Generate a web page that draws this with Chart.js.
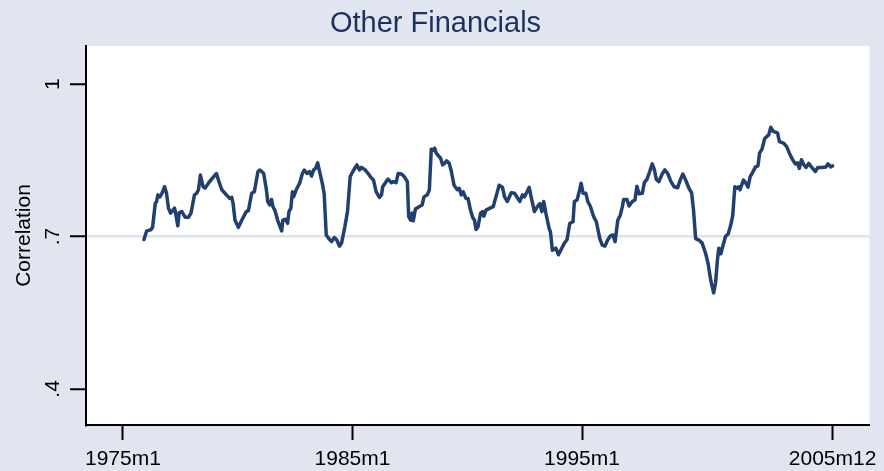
<!DOCTYPE html>
<html>
<head>
<meta charset="utf-8">
<script src="https://cdn.jsdelivr.net/npm/chart.js@4/dist/chart.umd.min.js"></script>
<style>
    html, body { margin: 0; padding: 0; background: #e1e5f0; }
    #wrap { width: 884px; height: 471px; }
</style>
</head>
<body>
<div id="wrap"><canvas id="corrChart" width="884" height="471"></canvas></div>
<script>
// months counted from 1975m1 (= 0)
const months = [
    11.0, 12.4, 14.5, 15.5, 16.9, 17.6, 18.3, 19.3, 20.4, 21.8, 22.8, 23.8, 24.9, 25.9, 27.0, 27.7, 28.7, 29.4, 30.8, 32.5,
    34.3, 35.6, 37.4, 38.5, 39.5, 40.5, 41.9, 42.9, 44.7, 46.8, 48.9, 50.2, 51.7, 54.1, 55.8, 56.9, 57.6, 58.6, 60.4, 62.1,
    64.5, 65.6, 67.3, 68.7, 70.6, 71.5, 72.5, 73.6, 75.0, 75.7, 76.7, 77.7, 78.4, 79.5, 80.9, 83.0, 83.6, 85.1, 86.1, 86.8,
    87.8, 88.6, 89.2, 90.6, 92.4, 93.8, 94.8, 96.2, 97.6, 98.6, 99.7, 100.7, 101.8, 102.8, 104.2, 105.2, 106.3, 107.6, 109.1, 110.5,
    111.8, 113.2, 114.3, 116.0, 117.4, 118.8, 120.2, 122.3, 123.7, 124.7, 126.4, 128.2, 129.3, 131.0, 132.4, 134.1, 135.2, 135.8, 137.6, 138.6,
    140.4, 141.4, 142.8, 143.9, 145.6, 147.0, 148.7, 149.4, 150.4, 151.2, 151.8, 152.9, 154.6, 156.4, 157.4, 159.1, 160.2, 161.2, 162.3, 163.0,
    163.7, 164.7, 166.1, 167.1, 168.2, 169.2, 170.6, 171.7, 173.1, 174.8, 175.8, 176.9, 177.9, 179.3, 180.4, 181.7, 182.8, 183.8, 184.6, 185.6,
    187.0, 188.0, 188.7, 189.8, 191.9, 193.6, 195.0, 196.7, 198.4, 199.5, 200.9, 203.0, 204.7, 206.5, 207.5, 208.9, 209.9, 211.3, 212.4, 213.4,
    215.1, 216.5, 218.0, 219.0, 220.0, 221.1, 222.8, 223.5, 224.5, 226.3, 227.7, 229.4, 230.8, 232.2, 233.6, 235.3, 236.0, 237.4, 238.8, 239.5,
    240.6, 242.0, 243.0, 244.4, 246.1, 247.5, 249.3, 250.6, 252.0, 253.4, 254.8, 256.2, 257.3, 258.7, 260.0, 261.1, 261.8, 263.5, 264.6, 266.3,
    267.7, 268.7, 269.8, 271.5, 272.6, 274.0, 275.4, 276.7, 277.8, 278.8, 280.2, 281.9, 283.3, 284.8, 286.5, 288.2, 290.0, 291.3, 292.7, 294.2,
    295.9, 297.3, 298.3, 299.4, 301.1, 302.8, 304.6, 305.9, 307.3, 308.8, 309.8, 310.8, 311.5, 312.6, 313.6, 315.0, 316.4, 317.8, 318.8, 319.9,
    320.9, 322.0, 322.6, 324.4, 325.5, 326.8, 327.9, 328.9, 330.7, 332.0, 332.8, 334.1, 335.5, 337.6, 338.7, 339.7, 340.7, 342.2, 343.2, 345.3,
    347.0, 348.4, 350.1, 351.5, 352.6, 353.6, 354.7, 356.0, 357.1, 358.5, 359.9, 362.0, 363.3, 365.4, 367.5, 368.6, 370.0, 371.0
];
const corr = [
    .694, .711, .713, .718, .765, .769, .782, .778, .785, .798, .785, .756, .746, .751, .756, .742, .721, .747, .749, .738,
    .738, .746, .782, .785, .792, .821, .798, .795, .805, .815, .824, .808, .792, .782, .775, .777, .765, .732, .718, .732,
    .749, .751, .785, .788, .828, .831, .828, .824, .792, .769, .762, .773, .759, .751, .732, .711, .732, .734, .726, .749,
    .756, .788, .778, .792, .805, .824, .831, .824, .828, .819, .831, .834, .845, .828, .805, .785, .703, .696, .690, .698,
    .693, .681, .687, .719, .749, .818, .828, .841, .831, .836, .832, .824, .818, .811, .788, .777, .782, .798, .808, .813,
    .806, .808, .806, .824, .823, .818, .808, .739, .732, .746, .731, .754, .758, .762, .778, .782, .792, .872, .870, .874,
    .865, .860, .854, .841, .844, .849, .844, .828, .801, .792, .795, .782, .788, .775, .775, .752, .738, .732, .714, .719,
    .746, .749, .740, .752, .756, .759, .778, .801, .797, .778, .769, .786, .785, .775, .769, .782, .778, .788, .797, .778,
    .749, .758, .765, .749, .769, .746, .716, .709, .673, .677, .664, .677, .687, .694, .726, .729, .769, .772, .792, .805,
    .785, .785, .769, .759, .739, .729, .696, .683, .681, .693, .701, .703, .690, .732, .742, .759, .773, .773, .760, .769,
    .772, .799, .784, .785, .806, .813, .828, .843, .832, .813, .808, .823, .831, .824, .808, .798, .796, .811, .823, .811,
    .795, .786, .752, .696, .693, .687, .667, .647, .614, .589, .608, .654, .677, .666, .681, .700, .705, .723, .742, .798,
    .795, .798, .792, .811, .806, .797, .818, .824, .837, .839, .864, .872, .893, .900, .915, .908, .906, .904, .887, .884,
    .877, .864, .851, .843, .845, .834, .851, .841, .836, .844, .837, .828, .836, .836, .837, .843, .837, .839
];

const xTickMonths = [0, 120, 240, 371];
const xTickLabels = ['1975m1', '1985m1', '1995m1', '2005m12'];
const yTickValues = [0.4, 0.7, 1];
const yTickLabels = ['.4', '.7', '1'];

const FONT = "'Liberation Sans', Arial, Helvetica, sans-serif";
const BG_COLOR = '#e1e5f0';
const LINE_COLOR = '#22406f';

// Paint the outer region and the white plot region
const backgroundPlugin = {
    id: 'stataBackground',
    beforeDraw(chart) {
        const { ctx, chartArea } = chart;
        ctx.save();
        ctx.fillStyle = BG_COLOR;
        ctx.fillRect(0, 0, chart.width, chart.height);
        ctx.fillStyle = '#ffffff';
        ctx.fillRect(chartArea.left, chartArea.top, chartArea.right - chartArea.left, chartArea.bottom - chartArea.top);
        ctx.restore();
    }
};

const points = months.map((m, i) => ({ x: m, y: corr[i] }));

new Chart(document.getElementById('corrChart'), {
    type: 'line',
    data: {
        datasets: [{
            label: 'Correlation',
            data: points,
            borderColor: LINE_COLOR,
            borderWidth: 3.5,
            borderJoinStyle: 'round',
            borderCapStyle: 'round',
            pointRadius: 0,
            tension: 0,
            fill: false
        }]
    },
    options: {
        responsive: false,
        animation: false,
        layout: { padding: { left: 0, right: 13, top: 0, bottom: 0 } },
        plugins: {
            legend: { display: false },
            tooltip: { enabled: false },
            title: {
                display: true,
                text: 'Other Financials',
                color: '#1f2f5e',
                font: { family: FONT, size: 29, weight: 'normal', lineHeight: 1.2 },
                padding: { top: 7, bottom: 4.2 }
            }
        },
        scales: {
            x: {
                type: 'linear',
                min: -19.3,
                max: 390.3,
                afterBuildTicks: (scale) => {
                    scale.ticks = xTickMonths.map(v => ({ value: v }));
                },
                afterFit: (scale) => { scale.height = 46; },
                border: { display: true, color: '#000000', width: 2 },
                grid: {
                    drawOnChartArea: false,
                    drawTicks: true,
                    tickLength: 15,
                    tickWidth: 2,
                    tickColor: '#000000'
                },
                ticks: {
                    autoSkip: false,
                    maxRotation: 0,
                    minRotation: 0,
                    padding: 7,
                    color: '#000000',
                    font: { family: FONT, size: 21 },
                    callback: (value) => {
                        const idx = xTickMonths.indexOf(value);
                        return idx >= 0 ? xTickLabels[idx] : '';
                    }
                }
            },
            y: {
                type: 'linear',
                min: 0.329,
                max: 1.075,
                afterBuildTicks: (scale) => {
                    scale.ticks = yTickValues.map(v => ({ value: v }));
                },
                afterFit: (scale) => { scale.width = 86; },
                border: { display: true, color: '#000000', width: 2 },
                grid: {
                    drawOnChartArea: true,
                    drawTicks: true,
                    tickLength: 16,
                    tickWidth: 2,
                    tickColor: '#000000',
                    lineWidth: 2.5,
                    color: (ctx) => (ctx.tick && Math.abs(ctx.tick.value - 0.7) < 1e-6) ? '#dde2ec' : 'rgba(0,0,0,0)'
                },
                ticks: {
                    autoSkip: false,
                    minRotation: 90,
                    maxRotation: 90,
                    crossAlign: 'center',
                    padding: 8,
                    color: '#000000',
                    font: { family: FONT, size: 21 },
                    callback: (value) => {
                        const idx = yTickValues.findIndex(v => Math.abs(v - value) < 1e-6);
                        return idx >= 0 ? yTickLabels[idx] : '';
                    }
                },
                title: {
                    display: true,
                    text: 'Correlation',
                    color: '#000000',
                    font: { family: FONT, size: 21, lineHeight: 1.2 },
                    padding: { top: 12, bottom: 0 }
                }
            }
        }
    },
    plugins: [backgroundPlugin]
});
</script>
</body>
</html>
